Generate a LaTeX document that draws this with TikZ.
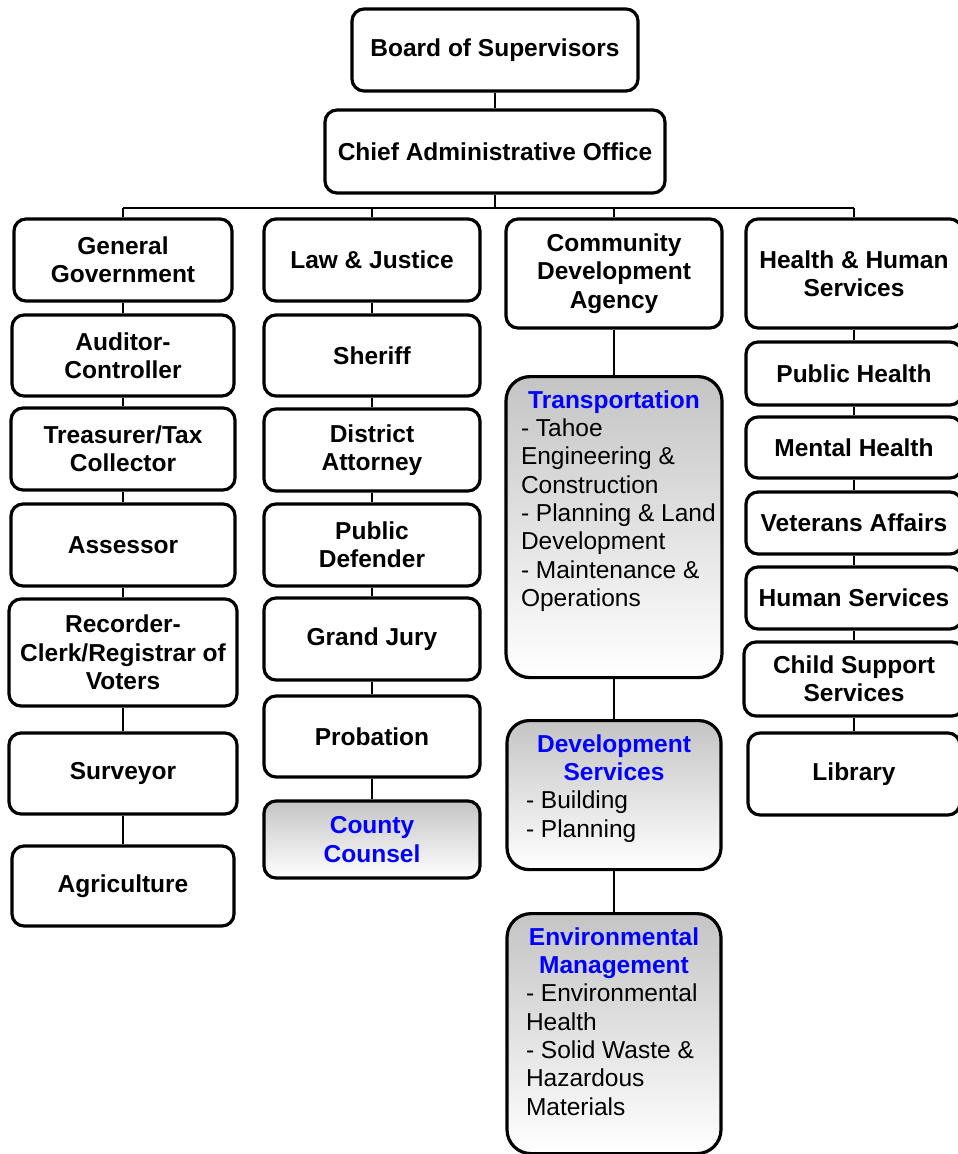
\documentclass[tikz,border=0pt]{standalone}
\usepackage{fontspec}
\setmainfont{Liberation Sans}
\definecolor{unitblue}{RGB}{0,0,255}
\definecolor{shadegray}{RGB}{196,196,196}
\newcommand{\chartfont}{\fontsize{24.5pt}{28.3pt}\selectfont}
\tikzset{
  unit/.style={draw, line width=3.2pt, rounded corners=12pt, fill=white, align=center, inner sep=0pt, font=\chartfont\bfseries},
  division/.style={draw, line width=3.2pt, rounded corners=24pt, top color=shadegray, bottom color=white, inner ysep=0pt, font=\chartfont},
  link/.style={line width=2pt},
}
\begin{document}
\begin{tikzpicture}[x=1pt,y=1pt,yscale=-1,xscale=1]
\useasboundingbox (0,0) rectangle (958,1154);

% top of the chart
\node[unit, minimum width=286pt, minimum height=82pt] (board) at (495,50) {Board of Supervisors};
\node[unit, minimum width=340pt, minimum height=83pt] (cao) at (495,151.5) {Chief Administrative Office};

% column 1: general government
\node[unit, minimum width=218pt, minimum height=82pt] (gengov) at (123,260) {General\\Government};
\node[unit, minimum width=222pt, minimum height=81pt] (auditor) at (123,355.5) {Auditor-\\Controller};
\node[unit, minimum width=224pt, minimum height=82pt] (treasurer) at (123,449) {Treasurer/Tax\\Collector};
\node[unit, minimum width=224pt, minimum height=82pt] (assessor) at (123,545) {Assessor};
\node[unit, minimum width=228pt, minimum height=107pt] (recorder) at (123,652.5) {Recorder-\\Clerk/Registrar of\\Voters};
\node[unit, minimum width=228pt, minimum height=81pt] (surveyor) at (123,773.5) {Surveyor};
\node[unit, minimum width=222pt, minimum height=80pt] (agri) at (123,886) {Agriculture};

% column 2: law & justice
\node[unit, minimum width=216pt, minimum height=82pt] (lawjus) at (372,260) {Law \& Justice};
\node[unit, minimum width=216pt, minimum height=81pt] (sheriff) at (372,355.5) {Sheriff};
\node[unit, minimum width=216pt, minimum height=82pt] (distatt) at (372,450) {District\\Attorney};
\node[unit, minimum width=216pt, minimum height=82pt] (pubdef) at (372,545) {Public\\Defender};
\node[unit, minimum width=216pt, minimum height=82pt] (grandjury) at (372,639) {Grand Jury};
\node[unit, minimum width=216pt, minimum height=81pt] (probation) at (372,736.5) {Probation};
\node[division, rounded corners=12pt, align=center, inner xsep=0pt, font=\chartfont\bfseries, text=unitblue, minimum width=216pt, minimum height=77pt] (counsel) at (372,839.5) {County\\Counsel};

% column 3: community development
\node[unit, minimum width=216pt, minimum height=109pt] (cda) at (614,273.5) {Community\\Development\\Agency};
\node[division, inner xsep=15pt, anchor=north] (transp) at (614,375) {\parbox[t][301pt][t]{186pt}{\vspace*{14pt}\centering\textcolor{unitblue}{\bfseries Transportation}\par\raggedright
 - Tahoe\\Engineering \&\\Construction\\\mbox{- Planning \& Land}\\Development\\- Maintenance \&\\Operations}};
\node[division, rounded corners=22pt, inner xsep=19pt, anchor=north] (devserv) at (614,719) {\parbox[t][149pt][t]{176pt}{\vspace*{14pt}\centering\textcolor{unitblue}{\bfseries Development\\Services}\par\raggedright
 - Building\\- Planning}};
\node[division, inner xsep=19pt, anchor=north] (envmgmt) at (614,912) {\parbox[t][240pt][t]{176pt}{\vspace*{14pt}\centering\textcolor{unitblue}{\bfseries Environmental\\Management}\par\raggedright
 \mbox{- Environmental}\\Health\\- Solid Waste \&\\Hazardous\\Materials}};

% column 4: health & human services
\node[unit, minimum width=216pt, minimum height=109pt] (hhs) at (854,273.5) {Health \& Human\\Services};
\node[unit, minimum width=216pt, minimum height=63pt] (pubhealth) at (854,373.5) {Public Health};
\node[unit, minimum width=216pt, minimum height=61pt] (menhealth) at (854,447.5) {Mental Health};
\node[unit, minimum width=216pt, minimum height=62pt] (veterans) at (854,523) {Veterans Affairs};
\node[unit, minimum width=216pt, minimum height=62pt] (humserv) at (854,598) {Human Services};
\node[unit, minimum width=220pt, minimum height=74pt] (childsup) at (854,679) {Child Support\\Services};
\node[unit, minimum width=212pt, minimum height=82pt] (library) at (854,774) {Library};

% bus under the chief administrative office
\coordinate (busw) at (123,208);
\coordinate (buse) at (854,208);
\draw[link] (cao) -- (cao |- busw);
\draw[link] (busw) -- (buse);
\foreach \n in {gengov,lawjus,cda,hhs}
  \draw[link] (\n) -- (\n |- busw);

% chains of units
\foreach \a/\b in {board/cao,
  gengov/auditor,auditor/treasurer,treasurer/assessor,assessor/recorder,recorder/surveyor,surveyor/agri,
  lawjus/sheriff,sheriff/distatt,distatt/pubdef,pubdef/grandjury,grandjury/probation,probation/counsel,
  cda/transp,transp/devserv,devserv/envmgmt,
  hhs/pubhealth,pubhealth/menhealth,menhealth/veterans,veterans/humserv,humserv/childsup,childsup/library}
  \draw[link] (\a) -- (\b);
\end{tikzpicture}
\end{document}
